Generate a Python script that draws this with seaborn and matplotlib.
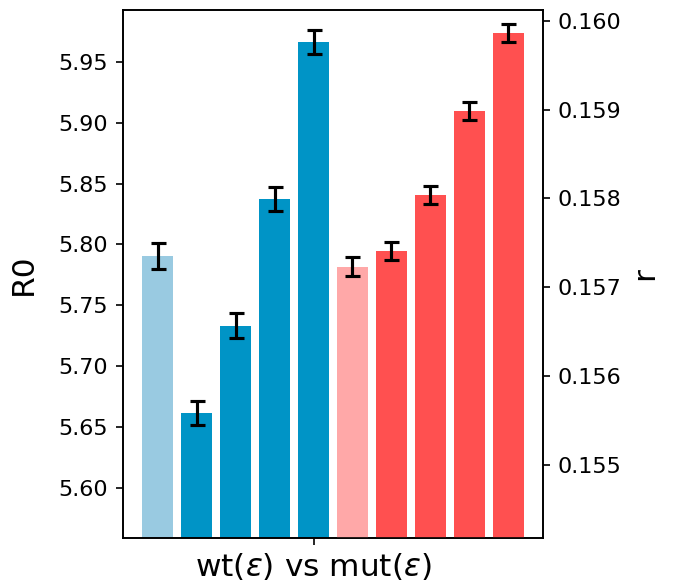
import matplotlib
matplotlib.use("Agg")
import matplotlib.pyplot as plt
import seaborn as sns
import pandas as pd

# Data
wt_labels = ["wt_0", "wt_1", "wt_2", "wt_3", "wt_4"]
wt_R0 = [5.7906, 5.6616, 5.7331, 5.8375, 5.9664]
wt_err = [0.0105, 0.0099, 0.0103, 0.0100, 0.0100]

mut_labels = ["mut_0", "mut_1", "mut_2", "mut_3", "mut_4"]
mut_r = [0.157229, 0.157409, 0.158039, 0.158984, 0.159862]
mut_err = [0.000107, 0.000105, 0.0000975, 0.0000975, 0.0001]

wt_colors = ["#99CAE1", "#0094C6", "#0094C6", "#0094C6", "#0094C6"]
mut_colors = ["#FFA8A8", "#FF5050", "#FF5050", "#FF5050", "#FF5050"]

xlabel_text = r"wt($\varepsilon$) vs mut($\varepsilon$)"

order = wt_labels + mut_labels
df_wt = pd.DataFrame({"cat": wt_labels, "val": wt_R0})
df_mut = pd.DataFrame({"cat": mut_labels, "val": mut_r})

fig = plt.figure(figsize=(674 / 150, 581 / 150), dpi=150)
ax = fig.add_axes([0.1825, 0.0745, 0.8056 - 0.1825, 0.9828 - 0.0745])
ax2 = ax.twinx()

sns.barplot(data=df_wt, x="cat", y="val", hue="cat", order=order,
            hue_order=wt_labels, palette=wt_colors, saturation=1,
            legend=False, errorbar=None, width=0.8, ax=ax)
sns.barplot(data=df_mut, x="cat", y="val", hue="cat", order=order,
            hue_order=mut_labels, palette=mut_colors, saturation=1,
            legend=False, errorbar=None, width=0.8, ax=ax2)

wt_pos = [order.index(c) for c in wt_labels]
mut_pos = [order.index(c) for c in mut_labels]
ax.errorbar(wt_pos, wt_R0, yerr=wt_err, fmt="none", ecolor="black",
            elinewidth=1.5, capsize=3.6, capthick=1.5, zorder=5)
ax2.errorbar(mut_pos, mut_r, yerr=mut_err, fmt="none", ecolor="black",
             elinewidth=1.5, capsize=3.6, capthick=1.5, zorder=5)

ax.set_ylim(5.559, 5.9927)
ax2.set_ylim(0.154182, 0.16012)
ax.set_xlim(-0.89, 9.89)
ax2.set_xlim(-0.89, 9.89)

ax.set_yticks([5.60, 5.65, 5.70, 5.75, 5.80, 5.85, 5.90, 5.95])
ax.set_yticklabels(["5.60", "5.65", "5.70", "5.75", "5.80", "5.85", "5.90", "5.95"])
ax2.set_yticks([0.155, 0.156, 0.157, 0.158, 0.159, 0.160])
ax2.set_yticklabels(["0.155", "0.156", "0.157", "0.158", "0.159", "0.160"])

ax.set_xticks([4])
ax.set_xticklabels([xlabel_text])
ax2.set_xticks([4])
ax.set_xlabel("")
ax2.set_xlabel("")
ax.tick_params(axis="y", labelsize=10.7)
ax2.tick_params(axis="y", labelsize=10.7)
ax.tick_params(axis="x", labelsize=15, pad=3)
ax.set_ylabel("R0", fontsize=15, labelpad=10)
ax2.set_ylabel("r", fontsize=15, labelpad=4)

fig.savefig("out.png", dpi=150)
